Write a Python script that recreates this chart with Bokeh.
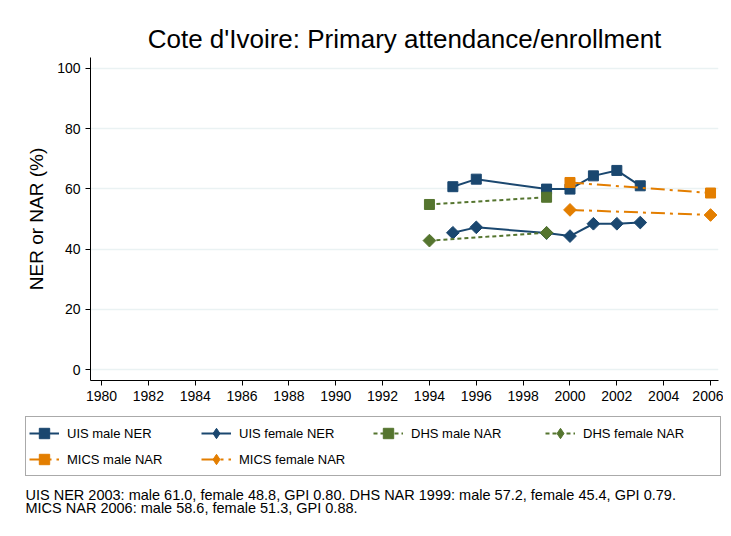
import numpy as np
from bokeh.plotting import figure
from bokeh.models import Legend, LegendItem, Label, FixedTicker, Range1d
from bokeh.embed import file_html
from bokeh.resources import INLINE

# ---- data ----
uis_years = [1995, 1996, 1999, 2000, 2001, 2002, 2003]
uis_male = [60.7, 63.2, 59.9, 59.9, 64.3, 66.1, 61.0]
uis_female = [45.4, 47.2, 45.3, 44.3, 48.4, 48.4, 48.8]
dhs_years = [1994, 1999]
dhs_male = [54.8, 57.2]
dhs_female = [42.8, 45.4]
mics_years = [2000, 2006]
mics_male = [62.1, 58.6]
mics_female = [53.0, 51.3]
x_ticks = list(range(1980, 2007, 2))
y_ticks = [0, 20, 40, 60, 80, 100]
title_text = "Cote d'Ivoire: Primary attendance/enrollment"
legend_labels = ["UIS male NER", "UIS female NER", "DHS male NAR", "DHS female NAR",
                 "MICS male NAR", "MICS female NAR"]
note1 = "UIS NER 2003: male 61.0, female 48.8, GPI 0.80. DHS NAR 1999: male 57.2, female 45.4, GPI 0.79."
note2 = "MICS NAR 2006: male 58.6, female 51.3, GPI 0.88."

NAVY = "#1a476f"
GREEN = "#55752f"
ORANGE = "#e37e00"
FONT = "Liberation Sans"
SQ = 10
DI = 9
ANG = np.pi / 4

styles = [
    dict(color=NAVY, dash="solid", marker_angle=0.0, size=SQ, key="square"),
    dict(color=NAVY, dash="solid", marker_angle=ANG, size=DI, key="diamond"),
    dict(color=GREEN, dash="4 3", marker_angle=0.0, size=SQ, key="square"),
    dict(color=GREEN, dash="4 3", marker_angle=ANG, size=DI, key="diamond"),
    dict(color=ORANGE, dash="14 5 3 5", marker_angle=0.0, size=SQ, key="square"),
    dict(color=ORANGE, dash="14 5 3 5", marker_angle=ANG, size=DI, key="diamond"),
]
series = [
    (uis_years, uis_male), (uis_years, uis_female),
    (dhs_years, dhs_male), (dhs_years, dhs_female),
    (mics_years, mics_male), (mics_years, mics_female),
]

W = 723
p = figure(width=W, height=408, output_backend="svg", toolbar_location=None,
           x_range=Range1d(1979.53, 2006.34), y_range=Range1d(-3.65, 103.6),
           min_border_left=90, min_border_right=5, min_border_top=57,
           min_border_bottom=28)
p.outline_line_color = None
p.background_fill_color = "white"
p.border_fill_color = "white"

p.title.text = title_text
p.title.align = "center"
p.title.text_font = FONT
p.title.text_font_size = "26px"
p.title.text_font_style = "normal"
p.title.text_color = "black"
p.title.standoff = 8

for ax in (p.xaxis[0], p.yaxis[0]):
    ax.axis_line_color = "black"
    ax.major_tick_line_color = "black"
    ax.major_tick_out = 5
    ax.major_tick_in = 0
    ax.minor_tick_line_color = None
    ax.major_label_text_font = FONT
    ax.major_label_text_font_size = "14px"
    ax.major_label_text_color = "black"

p.xaxis.ticker = FixedTicker(ticks=x_ticks)
p.yaxis.ticker = FixedTicker(ticks=y_ticks)
p.yaxis.major_label_orientation = "horizontal"
p.yaxis.axis_label = "NER or NAR (%)"
p.yaxis.axis_label_text_font = FONT
p.yaxis.axis_label_text_font_size = "19px"
p.yaxis.axis_label_text_font_style = "normal"
p.yaxis.axis_label_text_color = "black"
p.yaxis.axis_label_standoff = 7

p.xgrid.grid_line_color = None
p.ygrid.grid_line_color = "#eaf2f3"
p.ygrid.grid_line_width = 1.5

for (xs, ys), st in zip(series, styles):
    p.line(xs, ys, line_color=st["color"], line_width=2, line_dash=st["dash"])
    p.scatter(xs, ys, marker="square", angle=st["marker_angle"], size=st["size"],
              fill_color=st["color"], line_color=st["color"])

# ---- legend + notes panel (separate root, frame spans whole canvas) ----
H2 = 120
p2 = figure(width=W, height=H2, output_backend="svg", toolbar_location=None,
            x_range=Range1d(0, 1), y_range=Range1d(0, 1),
            x_axis_type=None, y_axis_type=None,
            min_border_left=0, min_border_right=0, min_border_top=0,
            min_border_bottom=0)
p2.outline_line_color = None
p2.grid.grid_line_color = None
p2.background_fill_color = "white"
p2.border_fill_color = "white"

items = []
for lab, (xs, ys), st in zip(legend_labels, series, styles):
    # same series, outside this panel's visible range: used only as legend keys
    r1 = p2.line(xs, ys, line_color=st["color"], line_width=2, line_dash=st["dash"])
    r2 = p2.scatter(xs, ys, marker=st["key"], size=st["size"],
                    fill_color=st["color"], line_color=st["color"])
    items.append(LegendItem(label=lab, renderers=[r1, r2]))

legend = Legend(items=items, orientation="horizontal", ncols=4,
                location=(25, 52))
legend.label_text_font = FONT
legend.label_text_font_size = "13px"
legend.label_text_color = "black"
legend.glyph_width = 30
legend.glyph_height = 26
legend.label_standoff = 8
legend.label_width = 134
legend.spacing = 0
legend.padding = 3
legend.margin = 0
legend.border_line_color = "#555555"
legend.border_line_width = 1
legend.background_fill_color = "white"
p2.add_layout(legend, "center")

for t, yy in ((note1, 34), (note2, 21)):
    lab = Label(x=25, y=yy, x_units="screen", y_units="screen", text=t,
                text_font=FONT, text_font_size="14.5px", text_color="black",
                text_baseline="alphabetic", text_align="left")
    p2.add_layout(lab)

open("out.html", "w").write(file_html([p, p2], INLINE))
